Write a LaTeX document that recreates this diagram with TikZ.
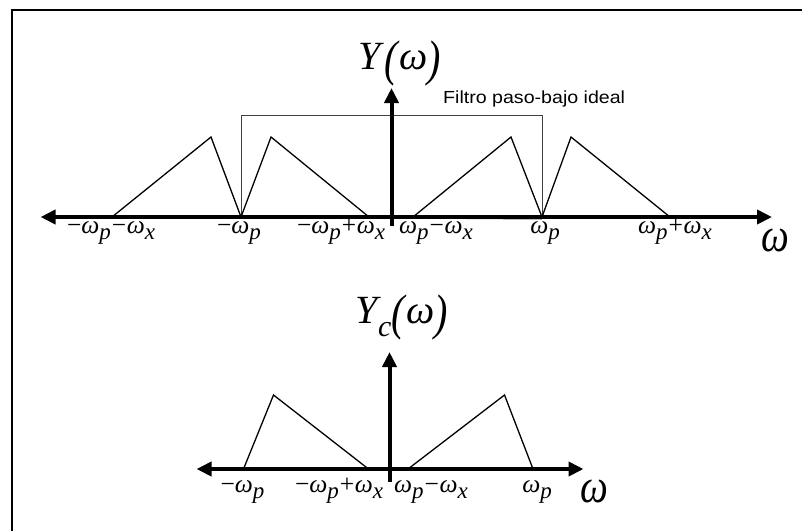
\documentclass[tikz,border=0pt]{standalone}
\usepackage{fontspec}
\setmainfont{Liberation Serif}
\newfontfamily\arialf{Liberation Sans}
\usetikzlibrary{arrows.meta}
\newcommand\Wsub[1]{\textit{ω}\raisebox{-6pt}{\fontsize{23}{23}\selectfont\textit{#1}}}
\newcommand\mn{\hspace{1pt}−\hspace{0.5pt}}
\newcommand\pl{\hspace{1pt}+\hspace{0.5pt}}
\newcommand\bigparen[1]{\raisebox{-6pt}{\scalebox{1}[1.25]{#1}}}
\newcommand\axw{\scalebox{0.82}[1]{\fontsize{48}{48}\selectfont\textit{ω}}}
\begin{document}
\begin{tikzpicture}[x=1pt,y=-1pt,
  axisR/.style={line width=4pt,-{Triangle[length=15pt,width=14pt]}},
  axisLR/.style={line width=4pt,{Triangle[length=15pt,width=14pt]}-{Triangle[length=15pt,width=14pt]}},
  sig/.style={line width=1.3pt,line join=miter},
  filt/.style={line width=1pt,draw=black!75},
  frame/.style={line width=2pt},
  lbl/.style={inner sep=0pt,anchor=base,font=\fontsize{25.5}{25.5}\selectfont},
  ttl/.style={inner sep=0pt,anchor=base west,font=\fontsize{40}{40}\selectfont},
  note/.style={inner sep=0pt,anchor=base west,font=\arialf\fontsize{17.5}{17.5}\selectfont}]
\useasboundingbox (0,0) rectangle (802,531);
% frame
\coordinate (fA) at (11.5,531);
\coordinate (fB) at (11.5,9.5);
\coordinate (fC) at (802,9.5);
\draw[frame] (fA) -- (fB) -- (fC);
% ---------------- top plot ----------------
\coordinate (tl) at (40.5,217);
\coordinate (tr) at (772,217);
\coordinate (vb) at (391.5,226);
\coordinate (vt) at (391.5,88);
\coordinate (a1) at (112,217);
\coordinate (p1) at (211,137);
\coordinate (a2) at (241,217);
\coordinate (p2) at (271,137);
\coordinate (a3) at (369,217);
\coordinate (a4) at (413,217);
\coordinate (p3) at (511,137);
\coordinate (a5) at (542,217);
\coordinate (p4) at (571,137);
\coordinate (a6) at (670,217);
\coordinate (f1) at (241,115);
\coordinate (f2) at (542,115);
\draw[filt] (a2) -- (f1) -- (f2) -- (a5);
\draw[filt] (a2) -- ([yshift=-2pt]a5);
\draw[sig] (a1) -- (p1) -- (a2) -- (p2) -- (a3);
\draw[sig] (a4) -- (p3) -- (a5) -- (p4) -- (a6);
\draw[axisLR] (tl) -- (tr);
\draw[axisR] (vb) -- (vt);
\node[ttl] (tY) at (358,69.3) {\textit{Y}\bigparen{\textit{(}}\textit{ω}\bigparen{\textit{)}}};
\node[note] (tF) at (443,103.3) {\scalebox{1.12}[1]{Filtro paso-bajo ideal}};
\node[lbl] (t1) at (111,233) {−\Wsub{p}\mn\Wsub{x}};
\node[lbl] (t2) at (239,233) {−\Wsub{p}};
\node[lbl] (t3) at (341,233) {−\Wsub{p}\pl\Wsub{x}};
\node[lbl] (t4) at (436,233) {\Wsub{p}\mn\Wsub{x}};
\node[lbl] (t5) at (545,233) {\Wsub{p}};
\node[lbl] (t6) at (675,233) {\Wsub{p}\pl\Wsub{x}};
\node[lbl] (tw) at (775,251) {\axw};
% ---------------- bottom plot ----------------
\coordinate (bl) at (196.5,469);
\coordinate (br) at (583.5,469);
\coordinate (bvb) at (389.5,482);
\coordinate (bvt) at (389.5,352);
\coordinate (b1) at (243.5,469);
\coordinate (q1) at (273.5,395);
\coordinate (b2) at (368.5,469);
\coordinate (b3) at (408,469);
\coordinate (q2) at (504.5,395);
\coordinate (b4) at (533,469);
\draw[sig] (b1) -- (q1) -- (b2);
\draw[sig] (b3) -- (q2) -- (b4);
\draw[axisLR] (bl) -- (br);
\draw[axisR] (bvb) -- (bvt);
\node[ttl] (bY) at (355,323.3) {\textit{Y}\hspace{-3pt}\raisebox{-13pt}{\fontsize{30}{30}\selectfont\textit{c}}\bigparen{\textit{(}}\textit{ω}\bigparen{\textit{)}}};
\node[lbl] (u1) at (242.5,492) {−\Wsub{p}};
\node[lbl] (u2) at (339,492) {−\Wsub{p}\pl\Wsub{x}};
\node[lbl] (u3) at (431,492) {\Wsub{p}\mn\Wsub{x}};
\node[lbl] (u4) at (537,492) {\Wsub{p}};
\node[lbl] (uw) at (594,502) {\axw};
\end{tikzpicture}
\end{document}
